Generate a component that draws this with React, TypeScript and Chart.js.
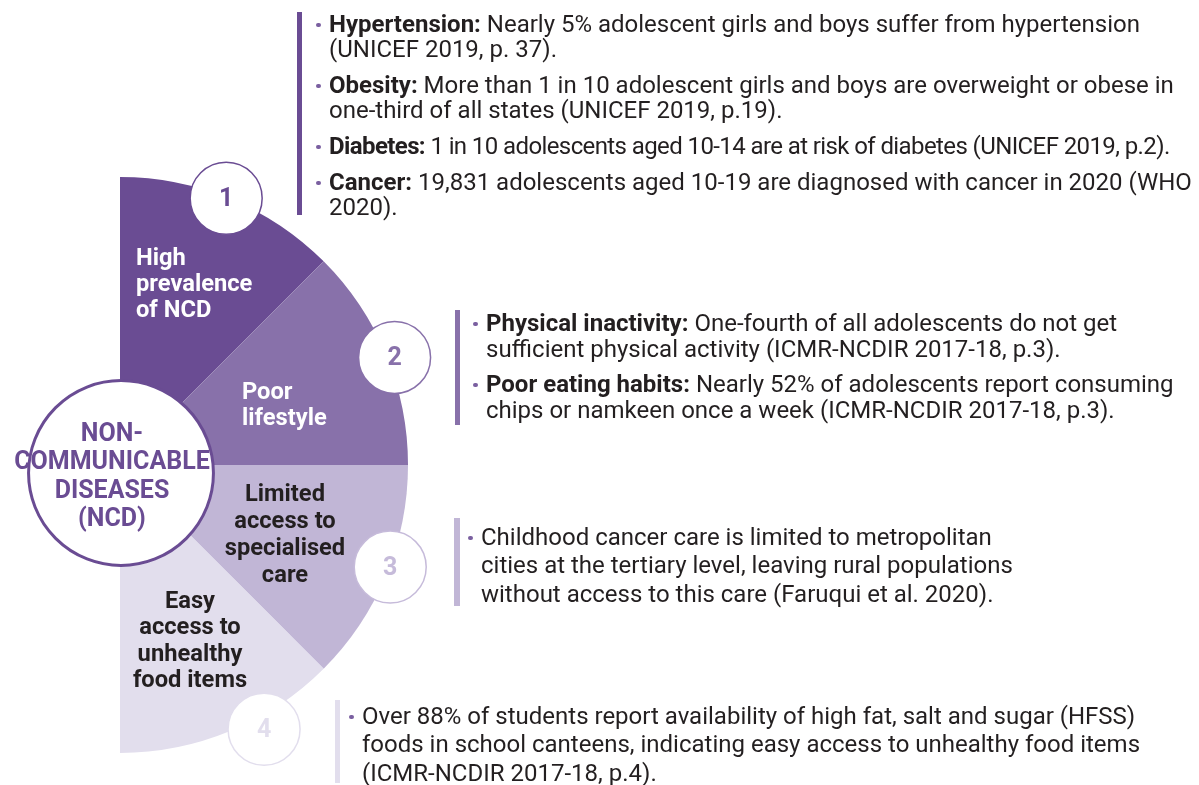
import React, { useEffect, useRef, useState } from "react";
import { Chart, registerables } from "chart.js";

Chart.register(...registerables);

// ---- data ----
const categories = [
  "High prevalence of NCD",
  "Poor lifestyle",
  "Limited access to specialised care",
  "Easy access to unhealthy food items",
];
const values = [1, 1, 1, 1];
const badgeNumbers = ["1", "2", "3", "4"];
const sliceLabelLines = [
  ["High", "prevalence", "of NCD"],
  ["Poor", "lifestyle"],
  ["Limited", "access to", "specialised", "care"],
  ["Easy", "access to", "unhealthy", "food items"],
];
const centerTitle = ["NON-", "COMMUNICABLE", "DISEASES", "(NCD)"];

type Item = { bold?: string; lines: string[] };

const block1: Item[] = [
  { bold: "Hypertension:", lines: [" Nearly 5% adolescent girls and boys suffer from hypertension", "(UNICEF 2019, p. 37)."] },
  { bold: "Obesity:", lines: [" More than 1 in 10 adolescent girls and boys are overweight or obese in", "one-third of all states (UNICEF 2019, p.19)."] },
  { bold: "Diabetes:", lines: [" 1 in 10 adolescents aged 10-14 are at risk of diabetes (UNICEF 2019, p.2)."] },
  { bold: "Cancer:", lines: [" 19,831 adolescents aged 10-19 are diagnosed with cancer in 2020 (WHO", "2020)."] },
];
const block2: Item[] = [
  { bold: "Physical inactivity:", lines: [" One-fourth of all adolescents do not get", "sufficient physical activity (ICMR-NCDIR 2017-18, p.3)."] },
  { bold: "Poor eating habits:", lines: [" Nearly 52% of adolescents report consuming", "chips or namkeen once a week (ICMR-NCDIR 2017-18, p.3)."] },
];
const block3: Item[] = [
  { lines: ["Childhood cancer care is limited to metropolitan", "cities at the tertiary level, leaving rural populations", "without access to this care (Faruqui et al. 2020)."] },
];
const block4: Item[] = [
  { lines: ["Over 88% of students report availability of high fat, salt and sugar (HFSS)", "foods in school canteens, indicating easy access to unhealthy food items", "(ICMR-NCDIR 2017-18, p.4)."] },
];

// ---- styles ----
const sliceColors = ["#6a4c93", "#8871aa", "#c1b6d6", "#e2deed"];
const badgeStroke = ["#6a4c93", "#8871aa", "#c6bbda", "#e2deed"];
const badgeAngleShift = [-0.8, 1.1, -1.8, -6.1];
const badgeDistFactor = [0.997, 1.024, 1.003, 1.045];
const FONT = "Roboto, 'Noto Sans', sans-serif";
const TEXT = "#231f20";
const BODY_SIZE = 24;
const LABEL_SIZE = 23.7;

function badgeCenter(arc: any, i: number) {
  const mid = (arc.startAngle + arc.endAngle) / 2 + (badgeAngleShift[i] * Math.PI) / 180;
  const d = arc.outerRadius * badgeDistFactor[i];
  return { x: arc.x + Math.cos(mid) * d, y: arc.y + Math.sin(mid) * d };
}

function Block(props: { left: number; top: number; lh: number; gap: number; items: Item[]; bullet: string; ls?: number[] }) {
  const { left, top, lh, gap, items, bullet, ls } = props;
  return (
    <div style={{ position: "absolute", left, top, fontSize: BODY_SIZE, lineHeight: lh + "px", color: TEXT, whiteSpace: "nowrap" }}>
      {items.map((it, i) => (
        <div key={i} style={{ position: "relative", marginTop: i === 0 ? 0 : gap, letterSpacing: ls ? ls[i] : 0 }}>
          <div style={{ position: "absolute", left: -13, top: lh / 2 - 1.5, width: 4.5, height: 4.5, borderRadius: "50%", background: bullet }} />
          {it.lines.map((ln, j) => (
            <div key={j}>
              {j === 0 && it.bold ? <b style={{ fontWeight: 700 }}>{it.bold}</b> : null}
              {ln}
            </div>
          ))}
        </div>
      ))}
    </div>
  );
}

export default function App() {
  const canvasRef = useRef<HTMLCanvasElement | null>(null);
  const [badges, setBadges] = useState<{ x: number; y: number }[]>([]);

  useEffect(() => {
    const canvas = canvasRef.current;
    if (!canvas) return;
    const decor = {
      id: "ncdDecor",
      afterDatasetsDraw(chart: any) {
        const ctx = chart.ctx as CanvasRenderingContext2D;
        const arcs = chart.getDatasetMeta(0).data as any[];
        const a0 = arcs[0];
        ctx.save();
        // central circle
        ctx.beginPath();
        ctx.arc(a0.x + 1, a0.y + 8, a0.outerRadius * 0.321, 0, Math.PI * 2);
        ctx.fillStyle = "#ffffff";
        ctx.fill();
        ctx.lineWidth = 3;
        ctx.strokeStyle = sliceColors[0];
        ctx.stroke();
        // badges
        arcs.forEach((arc, i) => {
          const c = badgeCenter(arc, i);
          ctx.beginPath();
          ctx.arc(c.x, c.y, 36, 0, Math.PI * 2);
          ctx.fillStyle = "#ffffff";
          ctx.fill();
          ctx.lineWidth = 1.5;
          ctx.strokeStyle = badgeStroke[i];
          ctx.stroke();
        });
        ctx.restore();
      },
    };
    const chart = new Chart(canvas, {
      type: "doughnut",
      data: {
        labels: categories,
        datasets: [
          {
            data: values,
            backgroundColor: sliceColors,
            borderWidth: 0,
          },
        ],
      },
      options: {
        responsive: false,
        maintainAspectRatio: false,
        animation: false,
        circumference: 180,
        rotation: 0,
        cutout: 0,
        radius: 288,
        layout: { padding: { left: 0, right: 671, top: 165, bottom: 20 } },
        plugins: { legend: { display: false }, tooltip: { enabled: false } },
        events: [],
      } as any,
      plugins: [decor],
    });
    const arcs = chart.getDatasetMeta(0).data as any[];
    setBadges(arcs.map((a, i) => badgeCenter(a, i)));
    return () => chart.destroy();
  }, []);

  return (
    <div style={{ position: "absolute", left: 0, top: 0, width: 1199, height: 785, overflow: "hidden", background: "#fff", fontFamily: FONT }}>
      <canvas ref={canvasRef} width={1199} height={785} style={{ position: "absolute", left: 0, top: 0, width: 1199, height: 785 }} />

      {/* slice labels */}
      <div style={{ position: "absolute", left: 136, top: 244, fontSize: LABEL_SIZE, fontWeight: 700, lineHeight: "26px", color: "#fff", whiteSpace: "nowrap" }}>
        {sliceLabelLines[0].map((l) => <div key={l}>{l}</div>)}
      </div>
      <div style={{ position: "absolute", left: 242, top: 378, fontSize: LABEL_SIZE, fontWeight: 700, lineHeight: "26px", color: "#fff", whiteSpace: "nowrap" }}>
        {sliceLabelLines[1].map((l) => <div key={l}>{l}</div>)}
      </div>
      <div style={{ position: "absolute", left: 185, width: 200, top: 480, fontSize: LABEL_SIZE, fontWeight: 700, lineHeight: "27px", color: TEXT, textAlign: "center", whiteSpace: "nowrap" }}>
        {sliceLabelLines[2].map((l) => <div key={l}>{l}</div>)}
      </div>
      <div style={{ position: "absolute", left: 90, width: 200, top: 587, fontSize: LABEL_SIZE, fontWeight: 700, lineHeight: "26.3px", color: TEXT, textAlign: "center", whiteSpace: "nowrap" }}>
        {sliceLabelLines[3].map((l) => <div key={l}>{l}</div>)}
      </div>

      {/* center title */}
      <div style={{ position: "absolute", left: 12, width: 200, top: 419, fontSize: 25, fontWeight: 700, lineHeight: "28.3px", color: sliceColors[0], textAlign: "center", whiteSpace: "nowrap" }}>
        {centerTitle.map((l) => <div key={l}>{l}</div>)}
      </div>

      {/* badge numbers */}
      {badges.map((b, i) => (
        <div key={i} style={{ position: "absolute", left: b.x - 30, top: b.y - 15, width: 60, textAlign: "center", fontSize: 25, fontWeight: 700, lineHeight: "30px", color: badgeStroke[i] }}>
          {badgeNumbers[i]}
        </div>
      ))}

      {/* vertical bars */}
      <div style={{ position: "absolute", left: 297, top: 12, width: 5, height: 203, background: sliceColors[0] }} />
      <div style={{ position: "absolute", left: 455, top: 310, width: 5, height: 115, background: sliceColors[1] }} />
      <div style={{ position: "absolute", left: 454, top: 518, width: 6, height: 88, background: sliceColors[2] }} />
      <div style={{ position: "absolute", left: 335, top: 700, width: 5, height: 83, background: sliceColors[3] }} />

      <Block left={329} top={11.5} lh={25} gap={11} items={block1} bullet="#7a5fa0" ls={[0, 0, -0.6, 0]} />
      <Block left={486} top={310} lh={26} gap={9} items={block2} bullet="#7a5fa0" />
      <Block left={481} top={522.75} lh={28.5} gap={0} items={block3} bullet="#7a5fa0" />
      <Block left={362} top={701.75} lh={28.5} gap={0} items={block4} bullet="#7a5fa0" />
    </div>
  );
}
